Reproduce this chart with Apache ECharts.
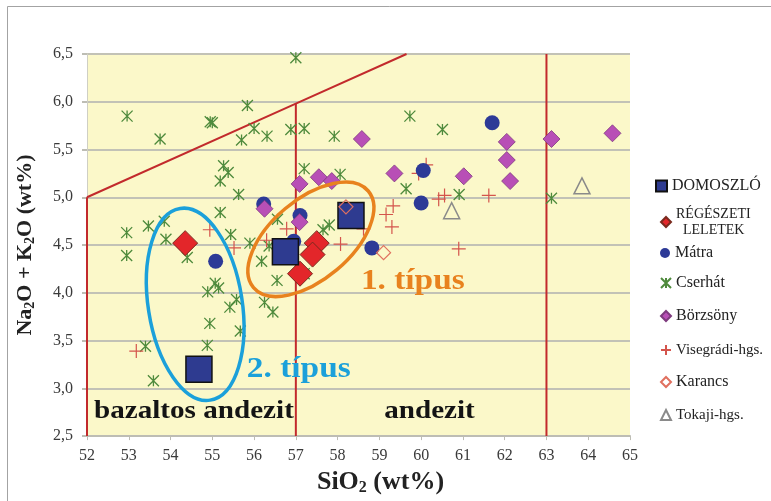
<!DOCTYPE html>
<html>
<head>
<meta charset="utf-8">
<script src="https://cdn.jsdelivr.net/npm/echarts@6/dist/echarts.min.js"></script>
<style>
html,body{margin:0;padding:0;background:#fff;}
#chart{width:771px;height:501px;}
</style>
</head>
<body>
<div id="chart"></div>
<script>
// TAS diagram: SiO2 vs. total alkali, andesite samples by locality

// Samples, [SiO2 wt%, Na2O+K2O wt%]
const domoszlo = [[54.68, 3.2], [56.75, 4.43], [58.32, 4.81]];
const regeszeti = [[54.35, 4.52], [57.5, 4.52], [57.4, 4.4], [57.1, 4.2]];
const matra = [[55.08, 4.33], [56.23, 4.93], [57.1, 4.81], [56.95, 4.54], [58.82, 4.47], [60.0, 4.94], [60.05, 5.28], [61.7, 5.78]];
const cserhat = [
  [57.0, 6.46], [52.96, 5.85], [53.75, 5.61], [54.95, 5.79], [55.0, 5.78], [55.84, 5.96], [56.0, 5.72],
  [55.7, 5.6], [56.31, 5.64], [56.88, 5.71], [57.2, 5.72], [57.92, 5.64], [59.73, 5.85], [60.51, 5.71],
  [55.27, 5.33], [55.38, 5.26], [55.19, 5.17], [55.63, 5.03], [57.2, 5.3], [58.06, 5.24], [59.64, 5.09],
  [60.91, 5.03], [63.12, 4.99], [52.95, 4.63], [52.95, 4.39], [53.47, 4.7], [53.85, 4.75], [53.89, 4.56],
  [54.4, 4.37], [55.19, 4.84], [55.44, 4.61], [55.9, 4.52], [56.18, 4.33], [56.55, 4.13], [57.65, 4.66],
  [57.8, 4.71], [56.36, 4.49], [56.56, 4.77], [55.07, 4.1], [55.15, 4.05], [54.89, 4.01], [55.42, 3.85],
  [55.58, 3.93], [54.94, 3.68], [55.67, 3.6], [54.88, 3.45], [53.4, 3.44], [53.59, 3.08], [56.25, 3.9],
  [56.45, 3.8], [57.2, 4.2]
];
const borzsony = [[56.25, 4.88], [57.09, 4.74], [57.09, 5.14], [57.55, 5.21], [57.86, 5.17], [58.58, 5.61], [59.36, 5.25], [61.02, 5.22], [62.05, 5.58], [62.05, 5.39], [62.13, 5.17], [63.12, 5.61], [64.58, 5.67]];
const visegradi = [[53.18, 3.39], [54.94, 4.66], [55.52, 4.47], [56.3, 4.55], [56.78, 4.67], [58.07, 4.51], [58.62, 4.67], [59.16, 4.82], [59.33, 4.91], [59.3, 4.69], [59.94, 5.25], [60.12, 5.34], [60.42, 4.98], [60.56, 5.02], [60.9, 4.46], [61.62, 5.02]];
const karancs = [[58.2, 4.9], [59.1, 4.42]];
const tokaji = [[60.73, 4.86], [63.85, 5.12]];

// TAS field boundaries
const boundaryUpper = [[52, 5.0], [57, 5.98], [59.65, 6.5]];
const boundary52 = [[52, 2.5], [52, 5.0]];
const boundary57 = [[57, 2.5], [57, 5.98]];
const boundary63 = [[63, 2.5], [63, 6.5]];

// Group outlines (centre in data units)
const groupCentres = [[54.59, 3.88], [57.36, 4.56]];

// Field names and group captions (anchor in data units)
const fieldNames = ['bazaltos andezit', 'andezit'];
const fieldAnchors = [[54.56, 2.765], [60.2, 2.765]];
const groupNames = ['2. típus', '1. típus'];
const groupAnchors = [[57.07, 3.2], [59.8, 4.12]];

const legendNames = ['DOMOSZLÓ', 'RÉGÉSZETI LELETEK', 'Mátra', 'Cserhát', 'Börzsöny', 'Visegrádi-hgs.', 'Karancs', 'Tokaji-hgs.'];

const SERIF = '"Liberation Serif", "Times New Roman", serif';
const RED_LINE = '#C22A2C';
const starPath = 'path://M0,0L10,10M10,0L0,10M5,0L5,10';
const plusPath = 'path://M5,0L5,10M0,5L10,5';

const ellipseStyles = [
  { rx: 47, ry: 97, rot: 0.155, color: '#1BA0DA' },
  { rx: 75, ry: 40, rot: 0.70, color: '#E8821E' }
];
const groupColors = ['#1BA0DA', '#E8821E'];

function boundarySeries(data) {
  return {
    type: 'line', data: data, showSymbol: false, silent: true, z: 2,
    lineStyle: { color: RED_LINE, width: 2 }, animation: false
  };
}

const legendTops = [173, 201, 240, 270, 303, 337, 369, 402];
const legends = legendNames.map((name, i) => ({
  data: [name],
  orient: 'vertical',
  left: i === 0 ? 650 : 655,
  top: legendTops[i],
  itemWidth: i === 0 ? 11 : 10,
  itemHeight: i === 0 ? 11 : 10,
  selectedMode: false,
  formatter: n => n === 'RÉGÉSZETI LELETEK' ? 'RÉGÉSZETI\n  LELETEK' : n,
  textStyle: {
    fontFamily: SERIF,
    fontSize: i === 1 ? 14 : (i === 5 || i === 7 ? 15 : 16),
    lineHeight: 16,
    color: '#222'
  }
}));

const option = {
  animation: false,
  backgroundColor: '#fff',
  graphic: [{
    type: 'rect', silent: true, z: -10,
    shape: { x: 7.5, y: 6.5, width: 800, height: 600 },
    style: { fill: null, stroke: '#A3A3A3', lineWidth: 1 }
  }],
  legend: legends,
  grid: { left: 87, right: 141, top: 54, bottom: 55, show: true, backgroundColor: '#FBF8C9', borderWidth: 0 },
  xAxis: {
    type: 'value', min: 52, max: 65, interval: 1,
    name: 'SiO{s|2} (wt%)',
    nameLocation: 'middle', nameGap: 28,
    nameTextStyle: {
      fontFamily: SERIF, fontWeight: 'bold', fontSize: 26, color: '#222',
      padding: [0, 0, 0, 44],
      rich: { s: { fontFamily: SERIF, fontWeight: 'bold', fontSize: 16, padding: [12, 0, 0, 0], color: '#222' } }
    },
    axisLine: { show: true, lineStyle: { color: '#BDBDB4', width: 2 } },
    axisTick: { show: true, length: 4, lineStyle: { color: '#BDBDB4' } },
    axisLabel: { fontFamily: SERIF, fontSize: 16, color: '#3a3a3a', margin: 12 },
    splitLine: { show: false }
  },
  yAxis: {
    type: 'value', min: 2.5, max: 6.5, interval: 0.5,
    name: 'Na{s|2}O + K{s|2}O (wt%)',
    nameLocation: 'middle', nameGap: 50, nameRotate: 90,
    nameTextStyle: {
      fontFamily: SERIF, fontWeight: 'bold', fontSize: 22, color: '#222',
      rich: { s: { fontFamily: SERIF, fontWeight: 'bold', fontSize: 14, padding: [10, 0, 0, 0], color: '#222' } }
    },
    axisLine: { show: true, lineStyle: { color: '#CFCFC4', width: 1 } },
    axisTick: { show: true, length: 5, lineStyle: { color: '#BDBDB4', width: 2 } },
    axisLabel: {
      fontFamily: SERIF, fontSize: 16, color: '#3a3a3a', margin: 14,
      formatter: v => v.toFixed(1).replace('.', ',')
    },
    splitLine: { show: true, lineStyle: { color: '#C2C2B6', width: 2 } }
  },
  series: [
    boundarySeries(boundaryUpper),
    boundarySeries(boundary52),
    boundarySeries(boundary57),
    boundarySeries(boundary63),
    {
      name: 'Cserhát', type: 'scatter', data: cserhat, symbol: starPath, symbolSize: 11, z: 3,
      itemStyle: { color: '#4E8A3C', borderColor: '#4E8A3C', borderWidth: 1.3, opacity: 1 }
    },
    {
      name: 'Visegrádi-hgs.', type: 'scatter', data: visegradi, symbol: plusPath, symbolSize: 14, z: 3,
      itemStyle: { color: '#D4544C', borderColor: '#D4544C', borderWidth: 1.2, opacity: 1 }
    },
    {
      name: 'Tokaji-hgs.', type: 'scatter', data: tokaji, symbol: 'triangle', symbolSize: 16, z: 3,
      itemStyle: { color: 'rgba(255,255,255,0)', borderColor: '#8A8A8A', borderWidth: 1.5, opacity: 1 }
    },
    {
      name: 'Mátra', type: 'scatter', data: matra, symbol: 'circle', symbolSize: 15, z: 4,
      itemStyle: { color: '#2D3A97', opacity: 1 }
    },
    {
      name: 'Börzsöny', type: 'scatter', data: borzsony, symbol: 'diamond', symbolSize: 17, z: 4,
      itemStyle: { color: '#B84FB6', borderColor: '#7E3A7E', borderWidth: 0.8, opacity: 1 }
    },
    {
      name: 'RÉGÉSZETI LELETEK', type: 'scatter', data: regeszeti, symbol: 'diamond', symbolSize: 25, z: 5,
      itemStyle: { color: '#E3262A', borderColor: '#7A2A1E', borderWidth: 1, opacity: 1 }
    },
    {
      name: 'DOMOSZLÓ', type: 'scatter', data: domoszlo, symbol: 'rect', symbolSize: 26, z: 6,
      itemStyle: { color: '#2E3B90', borderColor: '#111', borderWidth: 1.5, opacity: 1 }
    },
    {
      name: 'Karancs', type: 'scatter', data: karancs, symbol: 'diamond', symbolSize: 14, z: 7,
      itemStyle: { color: 'rgba(255,255,255,0)', borderColor: '#E0705F', borderWidth: 1.2, opacity: 1 }
    },
    {
      // group outlines
      type: 'custom', silent: true, z: 8,
      data: groupCentres,
      renderItem: (params, api) => {
        const p = api.coord([api.value(0), api.value(1)]);
        const e = ellipseStyles[params.dataIndex];
        return {
          type: 'ellipse', x: p[0], y: p[1], rotation: e.rot,
          shape: { cx: 0, cy: 0, rx: e.rx, ry: e.ry },
          style: { fill: null, stroke: e.color, lineWidth: 3.5 }
        };
      }
    },
    {
      // group captions
      type: 'custom', silent: true, z: 9,
      data: groupAnchors,
      renderItem: (params, api) => {
        const p = api.coord([api.value(0), api.value(1)]);
        return {
          type: 'text', x: p[0], y: p[1], scaleX: 1.15,
          style: {
            text: groupNames[params.dataIndex], fill: groupColors[params.dataIndex],
            font: 'bold 29px ' + SERIF, align: 'center', verticalAlign: 'middle'
          }
        };
      }
    },
    {
      // rock field names
      type: 'custom', silent: true, z: 9,
      data: fieldAnchors,
      renderItem: (params, api) => {
        const p = api.coord([api.value(0), api.value(1)]);
        return {
          type: 'text', x: p[0], y: p[1], scaleX: 1.12,
          style: {
            text: fieldNames[params.dataIndex], fill: '#141414',
            font: 'bold 26px ' + SERIF, align: 'center', verticalAlign: 'middle'
          }
        };
      }
    }
  ]
};

const chart = echarts.init(document.getElementById('chart'), null, { renderer: 'canvas' });
chart.setOption(option);
</script>
</body>
</html>
